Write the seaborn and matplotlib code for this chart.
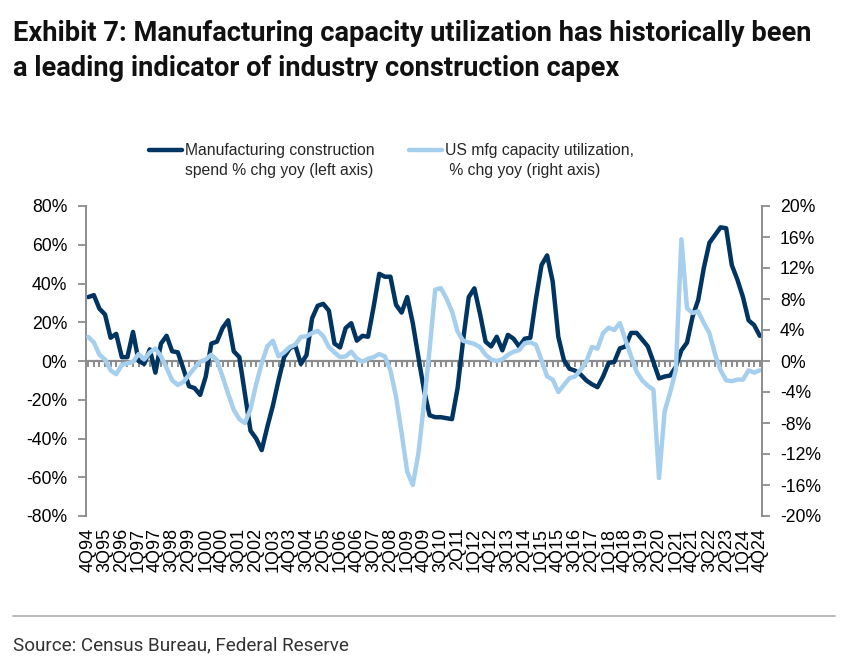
import numpy as np
import pandas as pd
import matplotlib
matplotlib.use("Agg")
import matplotlib.pyplot as plt
import seaborn as sns
from matplotlib.lines import Line2D
from matplotlib.legend_handler import HandlerLine2D
from matplotlib.ticker import FuncFormatter, MultipleLocator

# Datos (4Q94 - 4Q24, trimestral)
gasto_construccion = [
    33, 34, 27, 24, 12, 14, 2, 2, 15, 0,
    -1.5, 6, -6, 9, 13, 5, 4.5, -4, -13, -14,
    -17.5, -8, 9, 10, 17, 21, 5, 2, -17, -36,
    -40, -46, -34, -23, -10, 2, 6.5, 8, -1.5, 3,
    22, 28.5, 29.5, 26, 9, 7, 17, 19.5, 10.5, 13,
    12.5, 28, 45, 43.5, 43.5, 29, 25, 33, 19.5, 2,
    -15, -28, -29, -29, -29.5, -30, -14, 11, 33, 37.5,
    24.5, 10, 7.5, 12.5, 5.5, 13.5, 11.5, 7.5, 11.5, 12,
    32, 49.5, 54.5, 41, 12.5, 0.5, -4, -5, -7, -10,
    -12, -13.5, -8, -1, -0.5, 6.5, 7.5, 14.5, 14.5, 11,
    7.5, -0.5, -9, -8, -7.5, -3, 5.5, 9.5, 23, 31.5,
    48, 61, 65, 69, 68.5, 49.5, 42, 33, 21, 18.5,
    13,
]
capacidad_utilizada = [
    3.1, 2.4, 0.8, 0.2, -1.2, -1.7, -0.5, -0.3, -0.1, 0.9,
    0.2, 1.1, 1.6, 0.6, -0.9, -2.5, -3.1, -2.7, -1.8, -0.9,
    -0.1, 0.2, 0.8, 0.1, -2.0, -4.2, -6.3, -7.5, -8.0, -6.2,
    -3.0, -0.3, 1.9, 2.6, 0.6, 1.1, 1.8, 2.1, 3.1, 3.2,
    3.6, 3.9, 3.2, 1.8, 1.1, 0.5, 0.6, 1.2, 0.3, -0.1,
    0.3, 0.5, 0.9, 0.6, -1.2, -4.6, -9.3, -14.3, -16.0, -11.9,
    -5.5, 1.5, 9.2, 9.4, 8.1, 6.4, 3.8, 2.6, 2.4, 2.2,
    1.8, 0.8, 0.2, 0.0, 0.2, 0.8, 1.2, 1.4, 2.3, 2.4,
    2.1, 0.1, -2.0, -2.4, -4.0, -3.1, -2.2, -2.0, -1.1, -0.1,
    1.8, 1.6, 3.6, 4.3, 4.0, 4.9, 2.7, 0.6, -1.4, -2.5,
    -3.2, -3.7, -15.1, -6.5, -4.0, -1.2, 15.7, 6.8, 6.2, 6.4,
    4.9, 3.6, 0.9, -1.2, -2.5, -2.6, -2.4, -2.4, -1.2, -1.5,
    -1.2,
]

trimestres = pd.period_range("1994Q4", "2024Q4", freq="Q")
etiquetas = [f"{p.quarter}Q{p.year % 100:02d}" for p in trimestres]

df = pd.DataFrame({
    "idx": np.arange(len(etiquetas)),
    "trimestre": etiquetas,
    "construccion": gasto_construccion,
    "capacidad": capacidad_utilizada,
})

azul_oscuro = "#003562"
azul_claro = "#a6cfee"
gris = "#8c8c8c"

sns.set_style("white")
plt.rcParams["font.family"] = ["Liberation Sans", "DejaVu Sans"]
fuente_titulo = ["Roboto", "DejaVu Sans"]

fig = plt.figure(figsize=(8.45, 6.58), dpi=100)
ax = fig.add_axes([86 / 845, 1 - 516 / 658, 676 / 845, 310 / 658])

sns.lineplot(data=df, x="idx", y="construccion", ax=ax, color=azul_oscuro, linewidth=3.2)
ax2 = ax.twinx()
sns.lineplot(data=df, x="idx", y="capacidad", ax=ax2, color=azul_claro, linewidth=3.2)

ax.set_xlim(-0.4, len(df) - 0.6)
ax.set_ylim(-80, 80)
ax2.set_ylim(-20, 20)
ax.set_xlabel("")
ax.set_ylabel("")
ax2.set_ylabel("")

# ejes y
ax.yaxis.set_major_locator(MultipleLocator(20))
ax2.yaxis.set_major_locator(MultipleLocator(4))
ax.yaxis.set_major_formatter(FuncFormatter(lambda v, p: f"{v:.0f}%"))
ax2.yaxis.set_major_formatter(FuncFormatter(lambda v, p: f"{v:.0f}%"))
ax.tick_params(axis="y", length=6, width=1.3, color=gris, pad=7.5, labelsize=12.7, labelcolor="black")
ax2.tick_params(axis="y", length=6, width=1.3, color=gris, pad=7, labelsize=12.7, labelcolor="black")

for nombre in ["top", "right", "bottom"]:
    ax.spines[nombre].set_visible(False)
for nombre in ["top", "left", "bottom"]:
    ax2.spines[nombre].set_visible(False)
ax.spines["left"].set_color(gris)
ax.spines["left"].set_linewidth(1.4)
ax2.spines["right"].set_color(gris)
ax2.spines["right"].set_linewidth(1.4)

# etiquetas del eje x abajo
ax.set_xticks(df["idx"][::3])
ax.set_xticklabels(df["trimestre"][::3], rotation=90)
ax.tick_params(axis="x", length=0, pad=8.5, labelsize=13, labelcolor="black")

# linea del cero con marcas trimestrales
eje_cero = ax.secondary_xaxis(0.5)
eje_cero.set_xticks(df["idx"])
eje_cero.tick_params(axis="x", direction="in", length=4.5, width=1.4, color=gris,
                     labeltop=False, labelbottom=False)
eje_cero.spines["top"].set_color(gris)
eje_cero.spines["top"].set_linewidth(1.6)
eje_cero.spines["bottom"].set_visible(False)


class HandlerArriba(HandlerLine2D):
    # la linea de la leyenda va alineada con la primera linea del texto
    def create_artists(self, legend, orig_handle, xdescent, ydescent, width, height, fontsize, trans):
        artistas = super().create_artists(legend, orig_handle, xdescent, ydescent,
                                          width, height, fontsize, trans)
        for a in artistas:
            a.set_ydata(np.asarray(a.get_ydata()) + 0.7 * fontsize)
        return artistas


manejadores = [
    Line2D([], [], color=azul_oscuro, linewidth=3.2),
    Line2D([], [], color=azul_claro, linewidth=3.2),
]
textos = [
    "Manufacturing construction\nspend % chg yoy (left axis)",
    "US mfg capacity utilization,\n % chg yoy (right axis)",
]
leyenda = fig.legend(manejadores, textos, ncol=2, loc="lower left",
                     bbox_to_anchor=(149 / 845, 1 - 178 / 658), frameon=False,
                     fontsize=11.3, handlelength=2.1, handletextpad=0.2, columnspacing=2.2,
                     borderpad=0, borderaxespad=0,
                     handler_map={Line2D: HandlerArriba()})
for t in leyenda.get_texts():
    t.set_linespacing(1.4)

fig.text(13 / 845, 1 - 41 / 658,
         "Exhibit 7: Manufacturing capacity utilization has historically been",
         family=fuente_titulo, fontweight="bold", fontsize=19.6, color="#111111",
         va="baseline", ha="left")
fig.text(13 / 845, 1 - 76 / 658,
         "a leading indicator of industry construction capex",
         family=fuente_titulo, fontweight="bold", fontsize=19.6, color="#111111",
         va="baseline", ha="left")

fig.add_artist(Line2D([13 / 845, 835 / 845], [1 - 616 / 658, 1 - 616 / 658],
                      color="#b4b4b4", linewidth=1.3, transform=fig.transFigure))
fig.text(13 / 845, 1 - 650 / 658, "Source: Census Bureau, Federal Reserve",
         family=fuente_titulo, fontsize=13.6, color="#333333", va="baseline", ha="left")

fig.savefig("out.png", dpi=100)
